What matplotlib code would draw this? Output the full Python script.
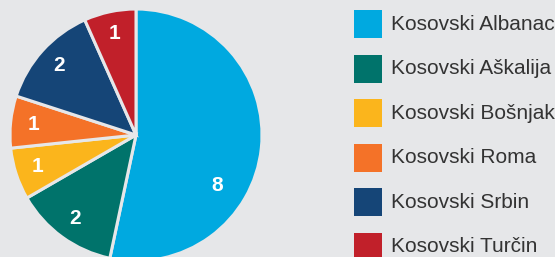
import numpy as np
import matplotlib
matplotlib.use("Agg")
import matplotlib.pyplot as plt
from matplotlib.patches import Rectangle

# ========================================
# Data
# ========================================
categories = ["Kosovski Albanac", "Kosovski Aškalija", "Kosovski Bošnjak",
              "Kosovski Roma", "Kosovski Srbin", "Kosovski Turčin"]
values = [8, 2, 1, 1, 2, 1]
colors = ["#00a9e0", "#00736b", "#fbb51c", "#f47228", "#154577", "#c1202a"]

BG = "#e6e7e9"
W, H = 555, 257

plt.rcParams["font.family"] = ["Liberation Sans", "DejaVu Sans"]

fig = plt.figure(figsize=(W / 100, H / 100), dpi=100, facecolor=BG)
# pie centre ~ (136, 135) px, radius ~126 px
ax = fig.add_axes([10 / W, -4 / H, 252 / W, 252 / H])
ax.set_facecolor(BG)

wedges, _ = ax.pie(values, colors=colors, startangle=90, counterclock=False,
                   radius=1.0, wedgeprops=dict(edgecolor=BG, linewidth=2.2))

# value labels inside the slices
for w, v in zip(wedges, values):
    mid = np.deg2rad((w.theta1 + w.theta2) / 2)
    r = 0.82
    if v == max(values):
        mid = mid - np.deg2rad(26)
        r = 0.76
    ax.text(r * np.cos(mid), r * np.sin(mid), str(v), color="white",
            fontsize=15, fontweight="bold", ha="center", va="center")

ax.set_xlim(-1, 1)
ax.set_ylim(-1, 1)
ax.set_aspect("equal")
ax.axis("off")

# legend drawn by hand (pixel layout)
box, x0, y0, pitch = 28, 354, 10, 44.6
for i, (name, c) in enumerate(zip(categories, colors)):
    top = y0 + i * pitch
    fig.add_artist(Rectangle((x0 / W, 1 - (top + box) / H), box / W, box / H,
                             transform=fig.transFigure, facecolor=c,
                             edgecolor="none"))
    fig.text((x0 + box + 9) / W, 1 - (top + box / 2) / H, name,
             fontsize=15, color="#333333", ha="left", va="center")

fig.savefig("out.png", dpi=100, facecolor=BG)
